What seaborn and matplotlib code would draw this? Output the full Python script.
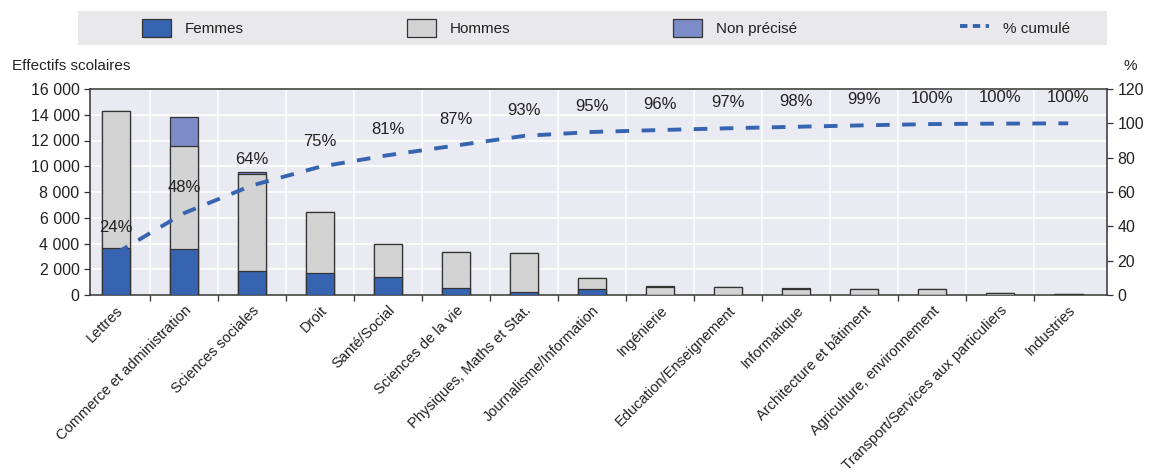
import numpy as np
import pandas as pd
import matplotlib
matplotlib.use("Agg")
import matplotlib.pyplot as plt
import seaborn as sns
from matplotlib.patches import Patch, Rectangle
from matplotlib.lines import Line2D
from matplotlib.ticker import FuncFormatter

# Student counts by field of study
categories = [
    "Lettres", "Commerce et administration", "Sciences sociales", "Droit",
    "Santé/Social", "Sciences de la vie", "Physiques, Maths et Stat.",
    "Journalisme/Information", "Ingénierie", "Education/Enseignement",
    "Informatique", "Architecture et bâtiment", "Agriculture, environnement",
    "Transport/Services aux particuliers", "Industries",
]
femmes = [3670, 3570, 1860, 1710, 1420, 520, 230, 470, 0, 0, 0, 0, 0, 0, 0]
hommes = [10630, 8030, 7510, 4710, 2560, 2820, 3060, 880, 620, 600, 480, 490, 440, 150, 100]
non_precise = [0, 2200, 160, 0, 0, 0, 0, 0, 50, 0, 40, 0, 0, 0, 0]

left_ticks = [0, 2000, 4000, 6000, 8000, 10000, 12000, 14000, 16000]
right_ticks = [0, 20, 40, 60, 80, 100, 120]

df = pd.DataFrame({
    "domaine": categories,
    "Femmes": femmes,
    "Hommes": hommes,
    "Non précisé": non_precise,
})
df["fh"] = df["Femmes"] + df["Hommes"]
df["total"] = df["fh"] + df["Non précisé"]
df["cumul"] = df["total"].cumsum() / df["total"].sum() * 100

C_F = "#3764b0"
C_H = "#d3d3d3"
C_NP = "#7b8cc8"
EDGE = "#333333"
TXT = "#222222"

sns.set_theme(style="darkgrid")
plt.rcParams["font.family"] = ["Liberation Sans Narrow", "Liberation Sans", "DejaVu Sans"]

fig = plt.figure(figsize=(11.5, 4.76), dpi=100)
ax = fig.add_axes([90 / 1150, 1 - 295 / 476, (1107 - 90) / 1150, (295 - 89) / 476])
ax.set_facecolor("#eaeaf2")

# Stacked bars drawn as overlaid cumulative totals
bw = 0.42
sns.barplot(data=df, x="domaine", y="total", color=C_NP, width=bw,
            edgecolor=EDGE, linewidth=0.9, saturation=1, ax=ax, zorder=3)
sns.barplot(data=df, x="domaine", y="fh", color=C_H, width=bw,
            edgecolor=EDGE, linewidth=0.9, saturation=1, ax=ax, zorder=3)
sns.barplot(data=df, x="domaine", y="Femmes", color=C_F, width=bw,
            edgecolor=EDGE, linewidth=0.9, saturation=1, ax=ax, zorder=3)

n = len(categories)
ax.set_xlim(-0.38, n - 0.43)
ax.set_ylim(0, 16000)
ax.set_yticks(left_ticks)
ax.yaxis.set_major_formatter(FuncFormatter(lambda v, p: f"{int(v):,}".replace(",", " ")))
ax.set_xlabel("")
ax.set_ylabel("")

# Category boundaries carry the vertical grid lines
ax.set_xticks(np.arange(n))
ax.set_xticks(np.arange(n - 1) + 0.5, minor=True)
ax.grid(False, axis="x", which="major")
ax.grid(True, axis="x", which="minor", color="white", linewidth=1.2)
ax.grid(True, axis="y", which="major", color="white", linewidth=1.2)
ax.set_axisbelow(True)
ax.set_xticklabels(categories, rotation=45, ha="right", rotation_mode="anchor",
                   fontsize=10.5, color=TXT)
ax.tick_params(axis="x", which="major", length=0, pad=6)
ax.tick_params(axis="x", which="minor", length=4, width=0.9, color=EDGE, direction="out", bottom=True)
ax.tick_params(axis="y", length=4, width=0.9, color=EDGE, direction="out", left=True,
               labelsize=11.5, labelcolor=TXT)
for s in ax.spines.values():
    s.set_visible(True)
    s.set_color(EDGE)
    s.set_linewidth(1.1)

# Cumulative share on the right axis
ax2 = ax.twinx()
sns.lineplot(x=np.arange(n), y=df["cumul"].to_numpy(), ax=ax2, color=C_F,
             linewidth=2.8, linestyle=(0, (3.5, 3.2)), zorder=5)
ax2.set_ylim(0, 120)
ax2.set_yticks(right_ticks)
ax2.grid(False)
ax2.patch.set_alpha(0)
ax2.tick_params(axis="y", length=4, width=0.9, color=EDGE, direction="out", right=True,
                labelsize=11.5, labelcolor=TXT)
for s in ax2.spines.values():
    s.set_visible(False)

for i, v in enumerate(df["cumul"]):
    ax2.text(i, v + 15, f"{v:.0f}%", ha="center", va="center", fontsize=12, color=TXT, zorder=6)

fig.text(12 / 1150, 1 - 66 / 476, "Effectifs scolaires", fontsize=11, color=TXT,
         ha="left", va="center")
fig.text(1124 / 1150, 1 - 66 / 476, "%", fontsize=11, color=TXT, ha="left", va="center")

# Legend band across the top
fig.patches.append(Rectangle((78 / 1150, 1 - 45 / 476), (1107 - 78) / 1150, 34 / 476,
                             transform=fig.transFigure, facecolor="#e9e9ec",
                             edgecolor="none", zorder=0))
handles = [
    Patch(facecolor=C_F, edgecolor=EDGE, linewidth=0.9, label="Femmes"),
    Patch(facecolor=C_H, edgecolor=EDGE, linewidth=0.9, label="Hommes"),
    Patch(facecolor=C_NP, edgecolor=EDGE, linewidth=0.9, label="Non précisé"),
    Line2D([0], [0], color=C_F, linewidth=2.8, linestyle=(0, (1.9, 1.4)), label="% cumulé"),
]
fig.legend(handles=handles, loc="center left", ncol=4, frameon=False, mode="expand",
           bbox_to_anchor=(136 / 1150, 1 - 45 / 476, (1076 - 136) / 1150, 34 / 476),
           fontsize=11, handlelength=1.9, handleheight=1.4, handletextpad=0.9,
           borderaxespad=0, labelcolor=TXT)

fig.savefig("out.png", dpi=100)
